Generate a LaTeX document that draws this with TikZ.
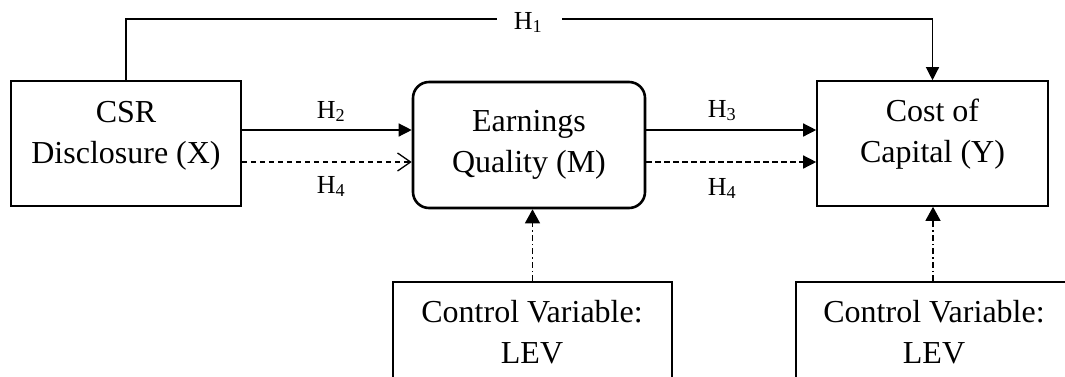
\documentclass[tikz,border=0pt]{standalone}
\usepackage{fontspec}
\setmainfont{Liberation Serif}
\usetikzlibrary{arrows.meta}
\begin{document}
\begin{tikzpicture}[x=1pt,y=-1pt,
  box/.style={draw, line width=1.6pt, inner sep=0pt},
  mbox/.style={draw, line width=2.6pt, rounded corners=16pt, inner sep=0pt},
  boxtext/.style={align=center, inner sep=0pt, font=\fontsize{32}{41}\selectfont},
  hlabel/.style={anchor=base, inner sep=0pt, font=\fontsize{26}{30}\selectfont},
  link/.style={line width=1.3pt},
  solidtip/.style={-{Triangle[length=13pt,width=13pt]}},
  opentip/.style={-{Straight Barb[length=13pt,width=18pt]}},
  dashedlink/.style={link, dash pattern=on 5.5pt off 3.5pt},
  ctrllink/.style={link, dash pattern=on 6pt off 3pt on 1.5pt off 3pt},
]
\useasboundingbox (0,0) rectangle (1065,376);
\clip (0,0) rectangle (1065,376);

% boxes
\node[box, minimum width=230pt, minimum height=125pt] (X) at (126,143.5) {};
\node[mbox, minimum width=232pt, minimum height=126pt] (M) at (529,145) {};
\node[box, minimum width=231pt, minimum height=125pt] (Y) at (932.5,143.5) {};
\node[box, minimum width=279pt, minimum height=120pt] (C1) at (532.5,342) {};
\node[box, minimum width=274pt, minimum height=120pt] (C2) at (933,342) {};

% box texts
\node[boxtext] (Xt) at (126,136.3) {CSR\\Disclosure (X)};
\node[boxtext] (Mt) at (529,144.6) {Earnings\\Quality (M)};
\node[boxtext] (Yt) at (932.5,134.6) {Cost of\\Capital (Y)};
\node[boxtext] (C1t) at (532,332.6) {Control Variable:\\LEV};
\node[boxtext] (C2t) at (934,332.6) {Control Variable:\\LEV};

% rows of the horizontal links
\coordinate (r1) at (0,130);
\coordinate (r2) at (0,162);

\draw[link, solidtip] (X.east |- r1) -- (M.west |- r1);
\draw[dashedlink, opentip] (X.east |- r2) -- (M.west |- r2);
\draw[link, solidtip] (M.east |- r1) -- (Y.west |- r1);
\draw[dashedlink, solidtip] (M.east |- r2) -- (Y.west |- r2);

% direct effect over the top
\node[hlabel] (H1) at (528,29) {H\textsubscript{1}};
\coordinate (g1) at (497,19);
\coordinate (g2) at (562,19);
\draw[link] (X.north) |- (g1);
\draw[link, solidtip] (g2) -| (Y.north);

% control variables
\draw[ctrllink, -{Triangle[length=14pt,width=15pt]}] (C1.north) -- (C1.north |- M.south);
\draw[ctrllink, -{Triangle[length=14pt,width=15pt]}] (C2.north) -- (C2.north |- Y.south);

% hypothesis labels
\node[hlabel] (H2) at (331,118) {H\textsubscript{2}};
\node[hlabel] (H4a) at (331,193) {H\textsubscript{4}};
\node[hlabel] (H3) at (722,117) {H\textsubscript{3}};
\node[hlabel] (H4b) at (722,195) {H\textsubscript{4}};
\end{tikzpicture}
\end{document}
